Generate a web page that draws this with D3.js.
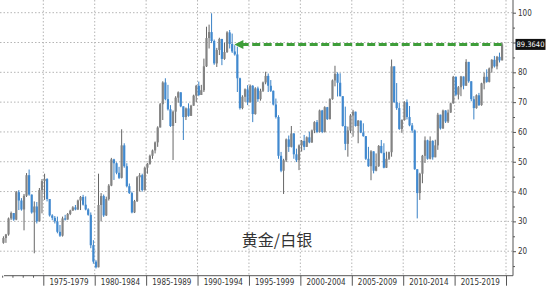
<!DOCTYPE html>
<html>
<head>
<meta charset="utf-8">
<script src="https://cdn.jsdelivr.net/npm/d3@7"></script>
<style>
  body { margin: 0; background: #fff; }
  svg { display: block; }
  .axis path, .axis line { stroke: #555; }
  .axis text { font-family: "DejaVu Sans Condensed", "Liberation Sans", sans-serif; font-size: 8px; fill: #333; }
</style>
</head>
<body>
<div id="chart"></div>
<script>
// Quarterly gold/silver ratio candles, 1971 Q1 .. 2019 Q3
const firstYear = 1971;
const firstOpen = 22.8;
const closes = [
  24.4, 25.6, 31.0, 32.8, 30.6, 39.8, 37.0, 34.0, 38.6, 45.5, 39.0, 33.0, 35.0, 30.0, 40.5, 43.5,
  44.2, 37.5, 32.0, 31.2, 30.0, 26.5, 25.2, 31.0, 30.6, 32.5, 33.6, 34.7, 34.0, 37.0, 38.2, 35.6,
  34.0, 32.2, 22.0, 16.5, 14.6, 35.5, 38.5, 32.0, 37.5, 42.0, 50.8, 49.5, 46.3, 44.6, 55.5, 48.5,
  41.8, 39.5, 33.0, 36.8, 44.8, 45.5, 40.5, 48.0, 49.3, 52.0, 53.8, 56.5, 61.5, 69.3, 76.6, 71.0,
  67.6, 62.0, 66.8, 71.5, 73.3, 68.6, 65.0, 67.9, 65.4, 68.8, 72.2, 75.5, 72.4, 74.0, 82.0, 91.5,
  93.5, 90.5, 83.0, 87.5, 91.2, 84.5, 86.8, 93.4, 89.5, 87.0, 86.0, 78.0, 68.0, 71.8, 74.3, 70.0,
  75.5, 66.0, 74.6, 71.0, 73.8, 76.6, 78.8, 75.5, 73.8, 69.2, 65.0, 52.0, 47.0, 50.5, 57.5, 55.0,
  59.5, 52.5, 50.5, 55.5, 57.0, 55.0, 58.2, 56.5, 60.5, 63.3, 60.0, 67.2, 60.0, 68.3, 64.3, 71.0,
  77.3, 79.5, 76.5, 72.0, 62.0, 56.0, 60.5, 65.5, 66.8, 62.0, 63.8, 59.8, 58.6, 51.0, 48.5, 53.5,
  47.0, 48.5, 55.3, 53.0, 48.0, 51.0, 53.2, 82.0, 70.0, 68.0, 61.0, 64.0, 70.0, 65.0, 62.2, 60.5,
  47.5, 39.5, 46.0, 52.0, 57.2, 51.0, 57.0, 51.5, 55.5, 65.8, 61.2, 67.2, 63.5, 66.5, 69.6, 78.5,
  72.5, 75.0, 78.6, 75.5, 83.5, 77.0, 71.0, 68.0, 72.3, 69.0, 76.3, 78.5, 76.8, 81.3, 84.2, 82.0,
  85.2, 84.0, 89.364
];
const highs = [
  25.0, 25.8, 31.3, 33.3, 32.5, 40.2, 40.5, 37.8, 39.2, 46.2, 47.4, 39.0, 36.7, 36.5, 41.2, 44.2,
  46.0, 44.5, 37.5, 32.4, 31.8, 31.6, 28.8, 31.6, 32.2, 32.8, 33.9, 35.1, 35.5, 37.3, 38.5, 38.9,
  38.4, 34.4, 33.0, 23.7, 17.0, 46.0, 39.5, 39.0, 38.3, 42.5, 51.3, 51.0, 49.8, 48.3, 60.9, 56.2,
  49.5, 42.7, 40.0, 37.2, 45.2, 46.2, 46.0, 48.4, 49.6, 52.4, 54.1, 56.8, 61.9, 69.7, 77.0, 78.0,
  75.8, 69.0, 67.2, 72.0, 73.6, 72.4, 67.5, 68.2, 69.6, 69.1, 72.5, 75.8, 76.9, 75.8, 84.6, 95.3,
  96.0, 99.8, 91.0, 88.2, 91.6, 91.0, 89.9, 93.8, 94.2, 93.0, 89.1, 88.6, 78.2, 72.3, 74.6, 75.7,
  75.9, 75.7, 75.0, 75.2, 74.5, 76.9, 80.2, 79.6, 77.4, 73.9, 71.2, 65.6, 53.3, 51.0, 57.8, 58.8,
  62.0, 59.6, 54.4, 55.8, 57.3, 59.0, 58.5, 60.1, 60.8, 63.6, 64.0, 67.5, 67.4, 68.6, 68.4, 71.3,
  77.6, 82.2, 80.0, 79.7, 72.0, 68.5, 61.8, 66.0, 67.4, 66.8, 64.0, 63.8, 62.9, 58.6, 55.0, 53.9,
  53.5, 52.8, 55.6, 57.3, 56.2, 53.4, 53.4, 84.3, 82.0, 76.4, 69.7, 64.2, 70.3, 70.9, 68.7, 63.0,
  60.8, 47.5, 46.3, 52.3, 58.5, 57.4, 58.5, 57.2, 57.4, 66.4, 65.8, 67.5, 67.3, 67.5, 69.8, 78.8,
  78.6, 75.4, 78.8, 78.6, 84.4, 83.5, 77.0, 72.0, 72.6, 73.1, 76.5, 79.9, 81.0, 81.6, 84.4, 85.5,
  85.5, 86.6, 90.0
];
const lows = [
  22.5, 22.8, 25.2, 30.5, 30.2, 30.4, 33.8, 33.6, 27.0, 38.2, 38.6, 32.6, 19.3, 29.3, 30.0, 32.7,
  37.2, 36.7, 31.6, 30.4, 29.3, 26.0, 24.8, 24.9, 30.3, 30.8, 32.1, 33.6, 33.7, 33.8, 33.8, 35.3,
  33.7, 31.9, 21.0, 15.8, 14.2, 14.6, 30.0, 31.5, 31.8, 37.0, 41.8, 43.9, 45.8, 44.2, 44.4, 48.0,
  41.4, 39.2, 32.7, 32.8, 36.5, 40.0, 40.0, 40.3, 46.0, 49.0, 51.0, 52.8, 55.0, 61.5, 64.0, 70.6,
  67.2, 61.7, 50.6, 63.0, 69.8, 68.3, 57.3, 64.0, 65.1, 65.8, 68.8, 70.0, 72.0, 73.2, 73.4, 81.8,
  88.0, 89.8, 82.5, 81.8, 85.8, 82.4, 84.2, 86.5, 88.0, 86.5, 85.6, 73.4, 67.5, 67.6, 70.1, 69.0,
  69.8, 63.3, 65.8, 70.1, 70.5, 73.4, 76.0, 73.4, 73.4, 68.9, 64.5, 51.0, 46.5, 39.2, 49.9, 53.3,
  54.8, 51.0, 49.9, 47.2, 53.4, 53.9, 55.0, 56.2, 56.3, 59.6, 59.6, 59.8, 59.6, 59.8, 64.0, 64.2,
  70.8, 75.3, 71.9, 71.9, 61.8, 53.9, 51.7, 59.6, 58.4, 61.8, 56.2, 59.6, 58.4, 50.6, 48.3, 43.8,
  46.1, 46.8, 48.3, 52.8, 47.8, 47.9, 50.6, 51.7, 69.7, 67.4, 60.7, 59.7, 63.8, 64.2, 61.9, 59.7,
  47.3, 31.0, 37.2, 42.8, 49.6, 50.7, 50.8, 50.7, 51.8, 54.0, 60.8, 61.0, 63.0, 63.0, 66.4, 69.5,
  72.0, 70.9, 72.0, 74.3, 75.5, 76.5, 70.3, 64.2, 67.8, 68.7, 68.8, 74.3, 76.5, 76.6, 79.9, 81.6,
  81.0, 83.3, 84.0
];

// axis labels
const periodStarts = [1975, 1980, 1985, 1990, 1995, 2000, 2005, 2010, 2015];
const minorYears = [1971, 1972, 1973, 1974];
const yTicks = [20, 30, 40, 50, 60, 70, 80, 90, 100];
const yMinorTicks = [15, 25, 35, 45, 55, 65, 75, 85, 95];
const lastValue = 89.364;
const lastLabel = "89.3640";
const arrowFromYear = 2019.6;
const arrowToYear = 1993.6;
const chartTitle = "黄金/白银";

const W = 550, H = 290;
const plotRight = 513, plotBottom = 275.7;

const svg = d3.select("#chart")
  .append("svg")
  .attr("width", W)
  .attr("height", H);

const yearDate = y => new Date(Math.floor(y), Math.round((y % 1) * 12), 1);

const x = d3.scaleTime()
  .domain([new Date(1975, 0, 1), new Date(2020, 0, 1)])
  .range([43.3, 506]);

const y = d3.scaleLinear()
  .domain([20, 100])
  .range([251.2, 12.7]);

// build candle records
const data = closes.map((c, i) => {
  const o = i === 0 ? firstOpen : closes[i - 1];
  return {
    date: new Date(firstYear + Math.floor(i / 4), (i % 4) * 3 + 1, 15),
    open: o,
    close: c,
    high: Math.max(highs[i], o, c),
    low: Math.min(lows[i], o, c)
  };
});

// gridlines
const grid = svg.append("g");
grid.selectAll(".hgrid")
  .data(yTicks)
  .enter()
  .append("line")
  .attr("x1", 0)
  .attr("x2", plotRight)
  .attr("y1", d => y(d))
  .attr("y2", d => y(d))
  .attr("stroke", "#b5b5b5")
  .attr("stroke-dasharray", "1.5,2");

grid.selectAll(".vgrid")
  .data(periodStarts.concat([2020]))
  .enter()
  .append("line")
  .attr("x1", d => x(new Date(d, 0, 1)))
  .attr("x2", d => x(new Date(d, 0, 1)))
  .attr("y1", 0)
  .attr("y2", plotBottom)
  .attr("stroke", "#b5b5b5")
  .attr("stroke-dasharray", "1.5,2");

// candles
const bw = 2.2;
const candles = svg.append("g");
candles.selectAll(".wick")
  .data(data)
  .enter()
  .append("line")
  .attr("x1", d => x(d.date))
  .attr("x2", d => x(d.date))
  .attr("y1", d => y(d.high))
  .attr("y2", d => y(d.low))
  .attr("stroke", d => d.close >= d.open ? "#666" : "#3a82c6")
  .attr("stroke-width", 1);

candles.selectAll(".body")
  .data(data)
  .enter()
  .append("rect")
  .attr("x", d => x(d.date) - bw / 2)
  .attr("y", d => y(Math.max(d.open, d.close)))
  .attr("width", bw)
  .attr("height", d => Math.max(1, Math.abs(y(d.open) - y(d.close))))
  .attr("fill", d => d.close >= d.open ? "#838383" : "#4189cf");

// green dashed arrow at the latest value
const arrowY = y(lastValue);
const ax0 = x(yearDate(arrowFromYear));
const ax1 = x(yearDate(arrowToYear));
svg.append("line")
  .attr("x1", ax0)
  .attr("x2", ax1 + 8)
  .attr("y1", arrowY)
  .attr("y2", arrowY)
  .attr("stroke", "#3f9e3a")
  .attr("stroke-width", 3)
  .attr("stroke-dasharray", "8,3.5");

svg.append("path")
  .attr("d", `M${ax1},${arrowY} L${ax1 + 9},${arrowY - 4.5} L${ax1 + 9},${arrowY + 4.5} Z`)
  .attr("fill", "#3f9e3a");

// right axis (the 90 label sits under the value tag)
svg.append("g")
  .attr("class", "axis")
  .attr("transform", `translate(${plotRight},0)`)
  .call(d3.axisRight(y).tickValues(yTicks).tickSize(3).tickPadding(2)
    .tickFormat(d => d === 90 ? "" : d))
  .call(g => g.select(".domain").attr("d", `M0,0V${plotBottom}`));

svg.append("g")
  .attr("class", "axis")
  .attr("transform", `translate(${plotRight},0)`)
  .call(d3.axisRight(y).tickValues(yMinorTicks).tickSize(2).tickFormat(""))
  .call(g => g.select(".domain").remove());

// bottom axis
svg.append("g")
  .attr("class", "axis")
  .attr("transform", `translate(0,${plotBottom})`)
  .call(d3.axisBottom(x)
    .tickValues(periodStarts.concat([2020]).map(d => new Date(d, 0, 1)))
    .tickSize(10)
    .tickFormat(""))
  .call(g => g.select(".domain").attr("d", `M4,0H${plotRight}`));

svg.append("g")
  .attr("class", "axis")
  .attr("transform", `translate(0,${plotBottom})`)
  .call(d3.axisBottom(x)
    .tickValues(minorYears.map(d => new Date(d, 0, 1)))
    .tickSize(2)
    .tickFormat(""))
  .call(g => g.select(".domain").remove());

svg.append("g")
  .selectAll("text")
  .data(periodStarts)
  .enter()
  .append("text")
  .attr("x", d => (x(new Date(d, 0, 1)) + x(new Date(d + 5, 0, 1))) / 2)
  .attr("y", 285)
  .attr("text-anchor", "middle")
  .style("font-family", "'DejaVu Sans Condensed', 'Liberation Sans', sans-serif")
  .style("font-size", "8px")
  .style("fill", "#333")
  .text(d => `${d}-${d + 4}`);

// last value tag
svg.append("rect")
  .attr("x", 515.5)
  .attr("y", arrowY - 5.5)
  .attr("width", 30)
  .attr("height", 11)
  .attr("fill", "#111");

svg.append("text")
  .attr("x", 530.5)
  .attr("y", arrowY + 3)
  .attr("text-anchor", "middle")
  .style("font-family", "'DejaVu Sans Condensed', 'Liberation Sans', sans-serif")
  .style("font-size", "7.5px")
  .style("fill", "#fff")
  .text(lastLabel);

// chart label
svg.append("text")
  .attr("x", 277)
  .attr("y", 246)
  .attr("text-anchor", "middle")
  .style("font-family", "'Noto Sans CJK SC', sans-serif")
  .style("font-size", "16px")
  .style("fill", "#333")
  .text(chartTitle);
</script>
</body>
</html>
